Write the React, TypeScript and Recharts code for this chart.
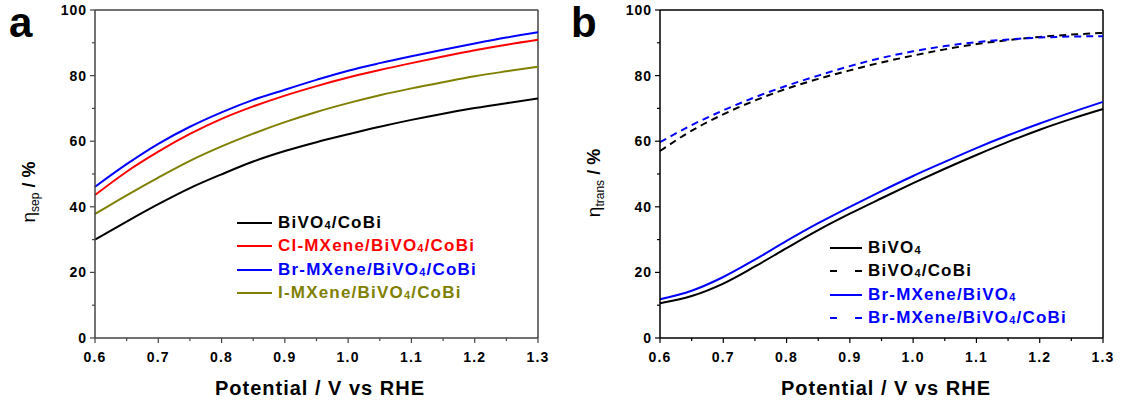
import { LineChart, Line, XAxis, YAxis, Legend, ReferenceLine } from 'recharts'

// potential (V vs RHE), shared by both panels
const potential = [0.6, 0.65, 0.7, 0.75, 0.8, 0.85, 0.9, 0.95, 1.0, 1.05, 1.1, 1.15, 1.2, 1.25, 1.3]

// panel a: charge separation efficiency (%)
const sepNames = ['BiVO4/CoBi', 'Cl-MXene/BiVO4/CoBi', 'Br-MXene/BiVO4/CoBi', 'I-MXene/BiVO4/CoBi']
const sepBiVO4CoBi = [30, 35.5, 40.8, 45.7, 49.9, 53.8, 57.0, 59.7, 62.1, 64.4, 66.5, 68.4, 70.1, 71.6, 73]
const sepClMXene = [43.6, 50.7, 56.8, 62.2, 66.8, 70.6, 73.9, 76.8, 79.4, 81.7, 83.8, 85.8, 87.7, 89.4, 90.9]
const sepBrMXene = [46.1, 53, 59.2, 64.4, 68.8, 72.6, 75.7, 78.7, 81.5, 83.8, 85.9, 87.9, 89.8, 91.6, 93.2]
const sepIMXene = [37.8, 43.5, 48.9, 54.0, 58.4, 62.3, 65.8, 68.9, 71.6, 74.0, 76.1, 78.0, 79.8, 81.3, 82.7]

// panel b: charge transfer efficiency (%)
const transNames = ['BiVO4', 'BiVO4/CoBi', 'Br-MXene/BiVO4', 'Br-MXene/BiVO4/CoBi']
const transBiVO4 = [10.6, 12.8, 16.6, 21.8, 27.4, 32.9, 37.9, 42.6, 47.2, 51.6, 55.8, 59.8, 63.5, 66.8, 69.8]
const transBiVO4CoBi = [57, 63.2, 68.2, 72.4, 76.0, 79.0, 81.6, 84.0, 86.1, 88.0, 89.6, 90.8, 91.8, 92.5, 93.0]
const transBrMXene = [11.8, 14.4, 18.6, 23.9, 29.6, 35.0, 40.0, 44.8, 49.4, 53.7, 57.9, 61.8, 65.4, 68.8, 72.0]
const transBrMXeneCoBi = [59.7, 64.9, 69.4, 73.4, 76.9, 80.0, 82.9, 85.4, 87.4, 89.0, 90.2, 91.0, 91.6, 91.9, 92.0]

const xTicks = [0.6, 0.65, 0.7, 0.75, 0.8, 0.85, 0.9, 0.95, 1.0, 1.05, 1.1, 1.15, 1.2, 1.25, 1.3]
const yTicks = [0, 10, 20, 30, 40, 50, 60, 70, 80, 90, 100]

const sepData = potential.map((v, i) => ({
  v,
  bivo4CoBi: sepBiVO4CoBi[i],
  cl: sepClMXene[i],
  br: sepBrMXene[i],
  iod: sepIMXene[i],
}))

const transData = potential.map((v, i) => ({
  v,
  bivo4: transBiVO4[i],
  bivo4CoBi: transBiVO4CoBi[i],
  br: transBrMXene[i],
  brCoBi: transBrMXeneCoBi[i],
}))

const FONT = '"Liberation Sans", Arial, sans-serif'

function withSub(text: string) {
  return text.split(/(\d)/).map((part, i) =>
    /\d/.test(part) ? (
      <span key={i} style={{ fontSize: 11, position: 'relative', top: 1 }}>
        {part}
      </span>
    ) : (
      <span key={i}>{part}</span>
    )
  )
}

function XTick(props: any) {
  const { x, y, payload, color } = props
  const v = payload.value as number
  const major = Math.round(v * 100) % 10 === 0
  return (
    <g>
      <line x1={x} x2={x} y1={y} y2={y + (major ? 5 : 3)} stroke={color} strokeWidth={1.2} />
      {major && (
        <text x={x} y={y + 24} textAnchor="middle" fontFamily={FONT} fontWeight="bold" fontSize={14} letterSpacing={1.2} fill="#000">
          {v.toFixed(1)}
        </text>
      )}
    </g>
  )
}

function YTick(props: any) {
  const { x, y, payload, color } = props
  const v = payload.value as number
  const major = v % 20 === 0
  return (
    <g>
      <line x1={x - (major ? 5 : 3)} x2={x} y1={y} y2={y} stroke={color} strokeWidth={1.2} />
      {major && (
        <text x={x - 8} y={y + 5} textAnchor="end" fontFamily={FONT} fontWeight="bold" fontSize={14} letterSpacing={1} fill="#000">
          {v}
        </text>
      )}
    </g>
  )
}

function LegendBox({ payload, order, lineWidth, dash }: any) {
  const items = [...(payload || [])].sort((p: any, q: any) => order.indexOf(p.value) - order.indexOf(q.value))
  return (
    <div style={{ fontFamily: FONT, fontWeight: 'bold', fontSize: 17, letterSpacing: 1.2 }}>
      {items.map((entry: any) => {
        const dashed = !!entry.payload?.strokeDasharray
        return (
          <div key={entry.value} style={{ display: 'flex', alignItems: 'center', height: 23.5, color: entry.color }}>
            <svg width={lineWidth} height={4} style={{ marginRight: 6 }}>
              <line x1={0} x2={lineWidth} y1={2} y2={2} stroke={entry.color} strokeWidth={2} strokeDasharray={dashed ? dash : undefined} />
            </svg>
            <span style={{ whiteSpace: 'nowrap' }}>{withSub(entry.value)}</span>
          </div>
        )
      })}
    </div>
  )
}

function xTitle(cx: number) {
  return () => (
    <text x={cx} y={395} textAnchor="middle" fontFamily={FONT} fontWeight="bold" fontSize={20} letterSpacing={1} fill="#000">
      Potential / V vs RHE
    </text>
  )
}

function yTitle(x: number, cy: number, sub: string) {
  return () => (
    <text transform={`rotate(-90, ${x}, ${cy})`} x={x} y={cy} textAnchor="middle" fontFamily={FONT} fill="#000">
      <tspan fontSize={19}>η</tspan>
      <tspan fontSize={12} dy={4}>{sub}</tspan>
      <tspan fontSize={18} fontWeight="bold" dy={-4}> / %</tspan>
    </text>
  )
}

export default function App() {
  const frameA = '#444'
  const frameB = '#000'
  return (
    <div style={{ position: 'absolute', left: 0, top: 0, width: 1124, height: 405, background: '#fff' }}>
      <div style={{ position: 'absolute', left: 0, top: 0 }}>
        <LineChart width={560} height={405} data={sepData} margin={{ top: 10, right: 22, left: 0, bottom: 0 }}>
          <XAxis
            dataKey="v"
            type="number"
            domain={[0.6, 1.3]}
            ticks={xTicks}
            interval={0}
            height={67}
            tickSize={0}
            tickMargin={0}
            tickLine={false}
            axisLine={{ stroke: frameA, strokeWidth: 1.5 }}
            tick={<XTick color={frameA} />}
            label={{ content: xTitle(320) }}
          />
          <YAxis
            type="number"
            domain={[0, 100]}
            ticks={yTicks}
            interval={0}
            width={95}
            tickSize={0}
            tickMargin={0}
            tickLine={false}
            axisLine={{ stroke: frameA, strokeWidth: 1.5 }}
            tick={<YTick color={frameA} />}
            label={{ content: yTitle(35, 192, 'sep') }}
          />
          <ReferenceLine y={100} stroke={frameA} strokeWidth={1.5} />
          <ReferenceLine x={1.3} stroke={frameA} strokeWidth={1.5} />
          <Line type="monotone" dataKey="bivo4CoBi" name={sepNames[0]} stroke="#000000" strokeWidth={2} dot={false} isAnimationActive={false} />
          <Line type="monotone" dataKey="cl" name={sepNames[1]} stroke="#ff0000" strokeWidth={2} dot={false} isAnimationActive={false} />
          <Line type="monotone" dataKey="br" name={sepNames[2]} stroke="#0000ff" strokeWidth={2} dot={false} isAnimationActive={false} />
          <Line type="monotone" dataKey="iod" name={sepNames[3]} stroke="#808000" strokeWidth={2} dot={false} isAnimationActive={false} />
          <Legend
            layout="vertical"
            align="center"
            verticalAlign="middle"
            wrapperStyle={{ left: 237, top: 211, width: 300 }}
            content={(p: any) => <LegendBox payload={p.payload} order={sepNames} lineWidth={35} dash="7 18" />}
          />
        </LineChart>
      </div>
      <div style={{ position: 'absolute', left: 560, top: 0 }}>
        <LineChart width={564} height={405} data={transData} margin={{ top: 10, right: 21, left: 0, bottom: 0 }}>
          <XAxis
            dataKey="v"
            type="number"
            domain={[0.6, 1.3]}
            ticks={xTicks}
            interval={0}
            height={67}
            tickSize={0}
            tickMargin={0}
            tickLine={false}
            axisLine={{ stroke: frameB, strokeWidth: 1.5 }}
            tick={<XTick color={frameB} />}
            label={{ content: xTitle(326) }}
          />
          <YAxis
            type="number"
            domain={[0, 100]}
            ticks={yTicks}
            interval={0}
            width={100}
            tickSize={0}
            tickMargin={0}
            tickLine={false}
            axisLine={{ stroke: frameB, strokeWidth: 1.5 }}
            tick={<YTick color={frameB} />}
            label={{ content: yTitle(40, 183, 'trans') }}
          />
          <ReferenceLine y={100} stroke={frameB} strokeWidth={1.5} />
          <ReferenceLine x={1.3} stroke={frameB} strokeWidth={1.5} />
          <Line type="monotone" dataKey="bivo4" name={transNames[0]} stroke="#000000" strokeWidth={2} dot={false} isAnimationActive={false} />
          <Line type="monotone" dataKey="bivo4CoBi" name={transNames[1]} stroke="#000000" strokeWidth={2} strokeDasharray="7 5" dot={false} isAnimationActive={false} />
          <Line type="monotone" dataKey="br" name={transNames[2]} stroke="#0000ff" strokeWidth={2} dot={false} isAnimationActive={false} />
          <Line type="monotone" dataKey="brCoBi" name={transNames[3]} stroke="#0000ff" strokeWidth={2} strokeDasharray="7 5" dot={false} isAnimationActive={false} />
          <Legend
            layout="vertical"
            align="center"
            verticalAlign="middle"
            wrapperStyle={{ left: 270, top: 236, width: 280 }}
            content={(p: any) => <LegendBox payload={p.payload} order={transNames} lineWidth={32} dash="7 18" />}
          />
        </LineChart>
      </div>
      <svg width={1124} height={405} style={{ position: 'absolute', left: 0, top: 0, pointerEvents: 'none' }}>
        <text x={9} y={37} fontFamily={FONT} fontWeight="bold" fontSize={42} fill="#000">a</text>
        <text x={571} y={37} fontFamily={FONT} fontWeight="bold" fontSize={42} fill="#000">b</text>
      </svg>
    </div>
  )
}
